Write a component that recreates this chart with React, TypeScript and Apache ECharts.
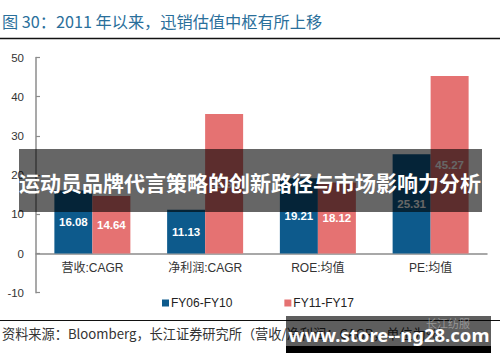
import React, { useEffect, useRef } from "react";
import * as echarts from "echarts";

const categories = ["营收:CAGR", "净利润:CAGR", "ROE:均值", "PE:均值"];
const seriesNames = ["FY06-FY10", "FY11-FY17"];
const fy06fy10 = [16.08, 11.13, 19.21, 25.31];
const fy11fy17 = [14.64, 35.6, 18.12, 45.27];
const yTicks = { min: -10, max: 50, interval: 10 };

const titleText = "图 30：2011 年以来，迅销估值中枢有所上移";
const bannerText = "运动员品牌代言策略的创新路径与市场影响力分析";
const sourceText = "资料来源：Bloomberg，长江证券研究所（营收/净利润：CAGR，单位为%）";
const watermarkText = "www.store--ng28.com";
const logoText = "长江纺服";

export default function App() {
  const ref = useRef<HTMLDivElement>(null);
  useEffect(() => {
    if (!ref.current) return;
    const chart = echarts.init(ref.current, null, { renderer: "svg" });
    const labelStyle = {
      show: true,
      position: "inside",
      color: "#ffffff",
      fontWeight: "bold",
      fontSize: 11.5,
      fontFamily: "Liberation Sans, Arial, sans-serif",
      formatter: (p: any) => p.value.toFixed(2),
    };
    chart.setOption({
      animation: false,
      backgroundColor: "#ffffff",
      grid: { left: 36, right: 13, top: 57.5, bottom: 69.3, containLabel: false },
      legend: {
        left: 157,
        top: 292,
        itemWidth: 7,
        itemHeight: 7,
        itemGap: 52,
        icon: "rect",
        textStyle: { color: "#222", fontSize: 12, fontFamily: "Liberation Sans, Arial, sans-serif", padding: [0, 0, 0, -3] },
        data: seriesNames,
      },
      xAxis: {
        type: "category",
        data: categories,
        offset: -39.3,
        axisLine: { onZero: false, lineStyle: { color: "#8c8c8c", width: 1.5 } },
        axisTick: { show: false },
        axisLabel: { color: "#333", fontSize: 12, margin: 9, fontFamily: "Liberation Sans, Noto Sans CJK SC, sans-serif" },
      },
      yAxis: {
        type: "value",
        min: yTicks.min,
        max: yTicks.max,
        interval: yTicks.interval,
        splitLine: { show: false },
        axisLine: { show: true, lineStyle: { color: "#8c8c8c", width: 1.5 } },
        axisTick: { show: true, inside: true, length: 4, lineStyle: { color: "#8c8c8c", width: 1.2 } },
        axisLabel: { color: "#333", fontSize: 11.5, margin: 12, fontFamily: "Liberation Sans, Arial, sans-serif" },
      },
      series: [
        {
          name: seriesNames[0],
          type: "bar",
          data: fy06fy10,
          barWidth: 38,
          barGap: "0%",
          itemStyle: { color: "#0d5a8c" },
          label: labelStyle,
        },
        {
          name: seriesNames[1],
          type: "bar",
          data: fy11fy17,
          barWidth: 38,
          barGap: "0%",
          itemStyle: { color: "#e57272" },
          label: labelStyle,
        },
      ],
      graphic: [
        {
          type: "text",
          left: 2,
          top: 13,
          z: 100,
          style: { text: titleText, fill: "#2a6f9b", fontSize: 16.2, fontFamily: "Noto Sans CJK SC, sans-serif" },
        },
        { type: "line", z: 100, shape: { x1: 0, y1: 38.5, x2: 500, y2: 38.5 }, style: { stroke: "#111", lineWidth: 1.5 } },
        { type: "line", z: 100, shape: { x1: 0, y1: 320.5, x2: 500, y2: 320.5 }, style: { stroke: "#111", lineWidth: 1.2 } },
        {
          type: "text",
          left: 2,
          top: 327,
          z: 100,
          style: { text: sourceText, fill: "#333", fontSize: 13.2, fontFamily: "Noto Sans CJK SC, sans-serif" },
        },
        { type: "rect", z: 200, shape: { x: 19, y: 149, width: 463, height: 63 }, style: { fill: "rgba(0,0,0,0.6)" } },
        {
          type: "text",
          x: 250,
          y: 182,
          z: 201,
          style: {
            text: bannerText,
            fill: "#ffffff",
            fontSize: 21,
            fontWeight: "bold",
            fontFamily: "Noto Sans CJK SC, sans-serif",
            align: "center",
            verticalAlign: "middle",
          },
        },
        { type: "rect", z: 200, shape: { x: 286, y: 316, width: 205, height: 30 }, style: { fill: "rgba(0,0,0,0.63)" } },
        { type: "rect", z: 200, shape: { x: 286, y: 346, width: 205, height: 7 }, style: { fill: "#000" } },
        {
          type: "text",
          x: 448,
          y: 323,
          z: 201,
          style: { text: logoText, fill: "rgba(200,200,200,0.55)", fontSize: 11, fontFamily: "Noto Sans CJK SC, sans-serif", align: "center", verticalAlign: "middle" },
        },
        {
          type: "text",
          x: 389,
          y: 334,
          z: 202,
          style: {
            text: watermarkText,
            fill: "#ffffff",
            fontSize: 18.5,
            fontWeight: "bold",
            fontFamily: "Noto Sans, DejaVu Sans, sans-serif",
            align: "center",
            verticalAlign: "middle",
          },
        },
      ],
    });
    return () => chart.dispose();
  }, []);
  return <div ref={ref} style={{ position: "fixed", left: 0, top: 0, width: 500, height: 362 }} />;
}
